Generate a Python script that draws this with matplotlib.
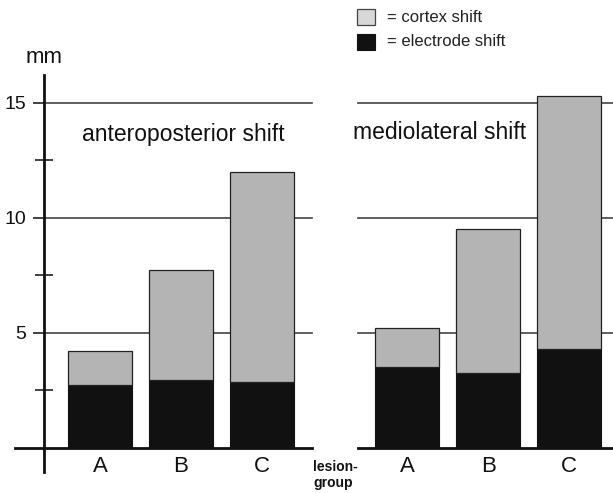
"""Stacked bar chart: anteroposterior vs mediolateral shift per lesion group."""
import matplotlib
matplotlib.use("Agg")
import matplotlib.pyplot as plt
from matplotlib.patches import Rectangle

plt.rcParams["font.family"] = ["Liberation Sans", "DejaVu Sans"]

GROUPS = ["A", "B", "C"]
# electrode shift (black, bottom) and cortex shift (grey, stacked on top), in mm
AP_ELECTRODE = [2.75, 2.95, 2.85]
AP_CORTEX = [1.45, 4.80, 9.15]
ML_ELECTRODE = [3.50, 3.25, 4.30]
ML_CORTEX = [1.70, 6.25, 11.00]

GREY = "#b4b4b4"
BLACK = "#111111"

fig = plt.figure(figsize=(6.13, 4.93), dpi=100)
ax = fig.add_axes([44 / 613, 21 / 493, 1 - 44 / 613, 397 / 493])

x_ap = [0, 1, 2]
x_ml = [3.79, 4.79, 5.79]
width = 0.79

ax.set_xlim(-0.69, 6.33)
ax.set_ylim(-1.04, 16.2)

# horizontal reference lines, broken between the two panels
for y in [5, 10, 15]:
    ax.plot([-0.69, 2.62], [y, y], color="#444444", lw=1.2, zorder=1)
    ax.plot([3.185, 6.4], [y, y], color="#444444", lw=1.2, zorder=1, clip_on=False)
ax.plot([-1.05, 2.62], [0, 0], color=BLACK, lw=2, zorder=3, clip_on=False)
ax.plot([3.185, 6.4], [0, 0], color=BLACK, lw=2, zorder=3, clip_on=False)

for xs, elec, cortex in [(x_ap, AP_ELECTRODE, AP_CORTEX), (x_ml, ML_ELECTRODE, ML_CORTEX)]:
    ax.bar(xs, elec, width=width, color=BLACK, edgecolor=BLACK, lw=0.8, zorder=2)
    ax.bar(xs, cortex, width=width, bottom=elec, color=GREY, edgecolor="#222222",
           lw=0.9, zorder=2)

for xs in (x_ap, x_ml):
    for x, g in zip(xs, GROUPS):
        ax.text(x, -0.8, g, ha="center", va="center", fontsize=16, color="#111111")

ax.text(2.63, -1.17, "lesion-\ngroup", ha="left", va="center", fontsize=10,
        fontweight="bold", linespacing=1.25, color="#111111", clip_on=False)
ax.text(-0.22, 13.6, "anteroposterior shift", ha="left", va="center", fontsize=16.5,
        color="#111111")
ax.text(3.12, 13.7, "mediolateral shift", ha="left", va="center", fontsize=16.5,
        color="#111111")
ax.text(-0.69, 16.95, "mm", ha="center", va="center", fontsize=16, color="#111111",
        clip_on=False)

# axis styling
for side in ["top", "right", "bottom"]:
    ax.spines[side].set_visible(False)
ax.spines["left"].set_linewidth(2)
ax.spines["left"].set_color(BLACK)
ax.set_xticks([])
ax.set_yticks([5, 10, 15])
ax.set_yticks([2.5, 7.5, 12.5], minor=True)
ax.tick_params(axis="y", which="major", direction="out", length=8, width=1.3,
               color="#333333", labelsize=14, pad=5, labelcolor="#111111")
ax.tick_params(axis="y", which="minor", direction="inout", length=13, width=1.3,
               color="#333333")

# legend drawn by hand in figure coordinates
fig.add_artist(Rectangle((357 / 613, 1 - 25 / 493), 18 / 613, 16 / 493,
                         transform=fig.transFigure, facecolor="#d8d8d8",
                         edgecolor="#444444", lw=0.9))
fig.add_artist(Rectangle((357 / 613, 1 - 50 / 493), 18 / 613, 16 / 493,
                         transform=fig.transFigure, facecolor=BLACK,
                         edgecolor=BLACK, lw=0.8))
fig.text(387 / 613, 1 - 18 / 493, "= cortex shift", ha="left", va="center",
         fontsize=12, color="#222222")
fig.text(387 / 613, 1 - 41 / 493, "= electrode shift", ha="left", va="center",
         fontsize=12, color="#222222")

fig.savefig("out.png", dpi=100)
